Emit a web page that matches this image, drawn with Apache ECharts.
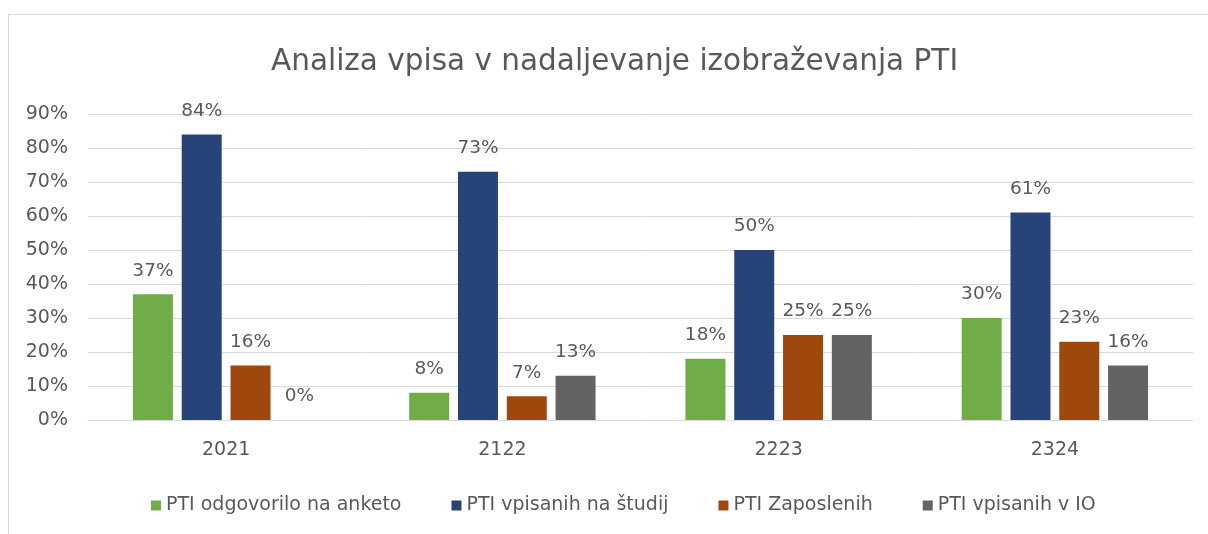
<!DOCTYPE html>
<html>
<head>
<meta charset="utf-8">
<script src="https://cdn.jsdelivr.net/npm/echarts@6/dist/echarts.min.js"></script>
<style>
html,body{margin:0;padding:0;background:#fff;}
#box{position:absolute;left:8px;top:14px;width:1200px;height:520px;border-left:1px solid #d9d9d9;border-top:1px solid #d9d9d9;box-sizing:border-box;}
#chart{position:absolute;left:0;top:0;width:1208px;height:534px;}
</style>
</head>
<body>
<div id="box"></div>
<div id="chart"></div>
<script>
const categories = ['2021', '2122', '2223', '2324'];
const seriesNames = ['PTI odgovorilo na anketo', 'PTI vpisanih na študij', 'PTI Zaposlenih', 'PTI vpisanih v IO'];
const odgovorilo = [37, 8, 18, 30];
const vpisaniStudij = [84, 73, 50, 61];
const zaposleni = [16, 7, 25, 23];
const vpisaniIO = [0, 13, 25, 16];
const yTicks = [0, 10, 20, 30, 40, 50, 60, 70, 80, 90];
const colors = ['#70AD47', '#264478', '#9E480E', '#636363'];

const font = 'DejaVu Sans';
const dataSets = [odgovorilo, vpisaniStudij, zaposleni, vpisaniIO];
const chart = echarts.init(document.getElementById('chart'), null, {renderer: 'canvas'});
chart.setOption({
  animation: false,
  color: colors,
  title: {
    text: 'Analiza vpisa v nadaljevanje izobraževanja PTI',
    left: 266, top: 42,
    textStyle: {fontFamily: font, fontSize: 29.5, fontWeight: 'normal', color: '#595959'}
  },
  legend: {
    bottom: 14, left: 146,
    icon: 'rect', itemWidth: 10, itemHeight: 10, itemGap: 50,
    textStyle: {fontFamily: font, fontSize: 19, color: '#595959'},
    data: seriesNames
  },
  grid: {left: 88, right: 15, top: 114, bottom: 114},
  xAxis: {
    type: 'category', data: categories,
    axisLine: {lineStyle: {color: '#d9d9d9', width: 1}},
    axisTick: {show: false},
    axisLabel: {fontFamily: font, fontSize: 19, color: '#595959', margin: 21}
  },
  yAxis: {
    type: 'value', min: yTicks[0], max: yTicks[yTicks.length - 1], interval: 10,
    axisLabel: {fontFamily: font, fontSize: 19, color: '#595959', formatter: '{value}%', margin: 20},
    splitLine: {lineStyle: {color: '#d9d9d9', width: 1}},
    axisLine: {show: false}, axisTick: {show: false}
  },
  series: seriesNames.map((n, i) => ({
    name: n, type: 'bar', data: dataSets[i],
    barWidth: 40, barGap: '22%',
    label: {show: true, position: 'top', distance: 14, formatter: '{c}%',
      fontFamily: font, fontSize: 18.5, color: '#595959'}
  }))
});
</script>
</body>
</html>
